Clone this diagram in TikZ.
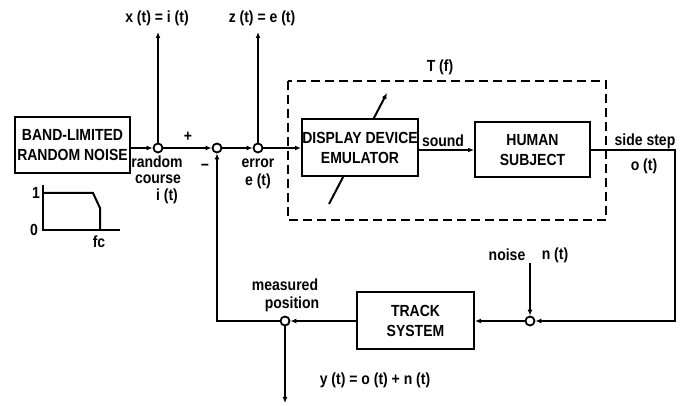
\documentclass[tikz,border=0pt]{standalone}
\usepackage{fontspec}
\setmainfont{Liberation Sans}
\usetikzlibrary{arrows.meta}
\newcommand\tl[1]{\scalebox{1}[1.15]{#1}}
\begin{document}
\begin{tikzpicture}[x=1pt,y=-1pt,
  txt/.style={font=\fontsize{14}{20}\selectfont\bfseries, inner sep=0pt, align=center},
  blk/.style={txt, draw, line width=2pt, fill=white},
  jn/.style={circle, draw, line width=1.8pt, fill=white, minimum size=9pt, inner sep=0pt},
  ln/.style={line width=2pt},
  conn/.style={ln, -{Latex[length=6pt,width=5pt]}},
]
\useasboundingbox (0,0) rectangle (689,406);

% dashed T(f) box
\draw[ln, dash pattern=on 9pt off 5pt] (288,81) rectangle (606,220);
\node[txt] (tf) at (440,67) {\tl{T (f)}};

% adjustable arrow through emulator (drawn first, box covers it)
\coordinate (dlow) at (329,204);
\coordinate (dhigh) at (387,93);
\draw[conn] (dlow) -- (dhigh);

% blocks
\node[blk, minimum width=115pt, minimum height=56pt] (noise) at (72.5,145) {\tl{BAND-LIMITED}\\\tl{RANDOM NOISE}};
\node[blk, minimum width=116pt, minimum height=57pt] (emu) at (360,148) {\tl{DISPLAY DEVICE}\\\tl{EMULATOR}};
\node[blk, minimum width=115pt, minimum height=55pt] (hum) at (532.5,150) {\tl{HUMAN}\\\tl{SUBJECT}};
\node[blk, minimum width=117pt, minimum height=57pt] (trk) at (415.5,321) {\tl{TRACK}\\\tl{SYSTEM}};

% junctions
\node[jn] (j1) at (158,148) {};
\node[jn] (j2) at (217,148) {};
\node[jn] (j3) at (258,148) {};
\node[jn] (j4) at (530,321) {};
\node[jn] (jm) at (285,321) {};

% free ends
\coordinate (xtop) at (158,32);
\coordinate (ztop) at (258,32);
\coordinate (ntop) at (530,263);
\coordinate (ybot) at (285,403);
\coordinate (c1) at (675,150);
\coordinate (c2) at (675,321);

% connectors
\draw[conn] (noise.east |- j1) -- (j1);
\draw[conn] (j1) -- (j2);
\draw[conn] (j2) -- (j3);
\draw[conn] (j3) -- (emu.west |- j3);
\draw[conn] (emu.east |- hum.west) -- (hum.west);
\draw[conn] (hum.east) -- (c1) -- (c2) -- (j4);
\draw[conn] (ntop) -- (j4);
\draw[conn] (j4) -- (trk.east |- j4);
\draw[conn] (trk.west |- jm) -- (jm);
\draw[conn] (jm) -- (jm -| j2) -- (j2);
\draw[conn] (j1) -- (xtop);
\draw[conn] (j3) -- (ztop);
\draw[conn] (jm) -- (ybot);

% labels
\node[txt] (lx) at (157,18) {\tl{x (t) = i (t)}};
\node[txt] (lz) at (262,18) {\tl{z (t) = e (t)}};
\node[txt] (lr1) at (157,162) {\tl{random}};
\node[txt] (lr2) at (158,179) {\tl{course}};
\node[txt] (lr3) at (167,196) {\tl{i (t)}};
\node[txt] (lplus) at (188,137) {\tl{+}};
\node[txt] (lminus) at (205,167) {\tl{\textminus}};
\node[txt] (le1) at (258,163) {\tl{error}};
\node[txt] (le2) at (258,181) {\tl{e (t)}};
\node[txt] (lsound) at (443,141) {\tl{sound}};
\node[txt] (lss) at (645,141) {\tl{side step}};
\node[txt] (lo) at (644,166) {\tl{o (t)}};
\node[txt] (lnoise) at (507,255) {\tl{noise}};
\node[txt] (ln) at (555,255) {\tl{n (t)}};
\node[txt] (lm1) at (285,285) {\tl{measured}};
\node[txt] (lm2) at (292,304) {\tl{position}};
\node[txt] (ly) at (375,380) {\tl{y (t) = o (t) + n (t)}};

% spectrum sketch
\draw[ln] (43,185) -- (43,230) -- (120,230);
\draw[ln] (43,193) -- (93,193) -- (100,208) -- (100,230);
\node[txt] (l1) at (36,193) {\tl{1}};
\node[txt] (l0) at (34,230) {\tl{0}};
\node[txt] (lfc) at (99,242) {\tl{fc}};
\end{tikzpicture}
\end{document}
